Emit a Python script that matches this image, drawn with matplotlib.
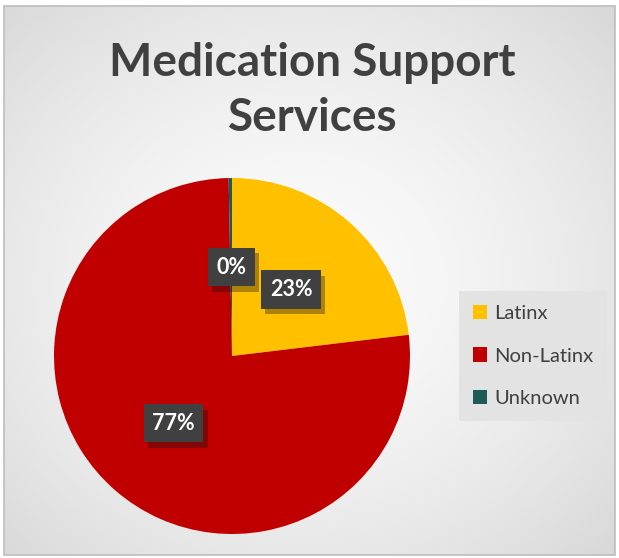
import numpy as np
import matplotlib
matplotlib.use("Agg")
import matplotlib.pyplot as plt
from matplotlib.patches import Rectangle
import matplotlib.patheffects as pe

# data
categories = ["Latinx", "Non-Latinx", "Unknown"]
shares = [23.1, 76.6, 0.3]
colors = ["#FFC000", "#C00000", "#1E5B57"]
title = "Medication Support\nServices"

W, H = 619, 558
fig = plt.figure(figsize=(W / 100, H / 100), dpi=100)
ax = fig.add_axes([0, 0, 1, 1])
ax.set_xlim(0, W)
ax.set_ylim(0, H)
ax.set_aspect("equal")
ax.axis("off")

# soft radial background like the office chart area
yy, xx = np.mgrid[0:H, 0:W]
d = np.hypot((xx - 300) / W, (yy - 280) / H)
d = d / d.max()
shade = 0.985 - 0.14 * d ** 1.6
ax.imshow(np.dstack([shade] * 3), extent=(4, 615, 3, 552), origin="upper",
          zorder=0, aspect="auto")
ax.add_patch(Rectangle((4, 3), 611, 549, fill=False, ec="#bdbdbd", lw=1.2, zorder=1))

fig.text(0.505, 0.838, title, ha="center", va="center", fontsize=33,
         fontweight="bold", color="#404040", family="Lato", linespacing=1.36)

wedges, _, autotexts = ax.pie(
    shares, colors=colors, startangle=90, counterclock=False,
    center=(232, 202), radius=178, autopct="%1.0f%%", pctdistance=0.5,
    wedgeprops=dict(linewidth=0), frame=True)
ax.set_xlim(0, W)
ax.set_ylim(0, H)
ax.axis("off")
for w in wedges:
    w.set_zorder(2)
for t in autotexts:
    t.set_color("white")
    t.set_fontsize(15.5)
    t.set_fontweight("bold")
    t.set_family("Lato")
    t.set_zorder(5)
    t.set_bbox(dict(boxstyle="square,pad=0.4", fc="#404040", ec="none",
                    path_effects=[pe.SimplePatchShadow(offset=(3, -4), alpha=0.35),
                                  pe.Normal()]))

leg = fig.legend(wedges, categories, loc="center left",
                 bbox_to_anchor=(459 / W, 1 - 356 / H), fontsize=14.5,
                 frameon=True, fancybox=False, handlelength=0.7,
                 handleheight=0.7, handletextpad=0.35, labelspacing=1.25,
                 borderpad=0.7, borderaxespad=0)
leg.get_frame().set_facecolor("#e3e3e3")
leg.get_frame().set_edgecolor("none")
leg.get_frame().set_alpha(1)
for t in leg.get_texts():
    t.set_color("#404040")
    t.set_family("Lato")

fig.savefig("out.png", dpi=100)
